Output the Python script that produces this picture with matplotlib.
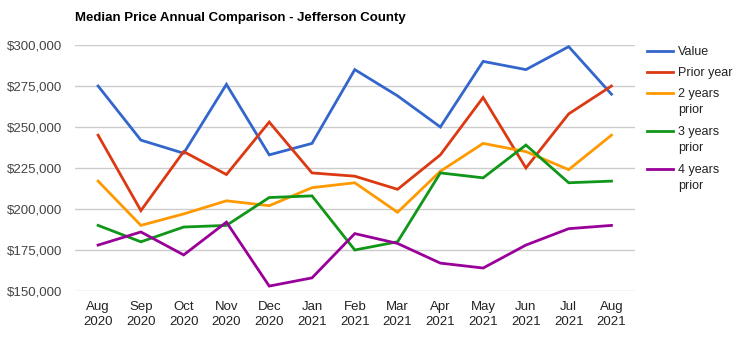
import matplotlib
matplotlib.use("Agg")
import matplotlib.pyplot as plt
from matplotlib.lines import Line2D
import matplotlib.ticker as mticker

plt.rcParams['font.family'] = ['Liberation Sans', 'DejaVu Sans']

months = ["Aug\n2020", "Sep\n2020", "Oct\n2020", "Nov\n2020", "Dec\n2020", "Jan\n2021",
          "Feb\n2021", "Mar\n2021", "Apr\n2021", "May\n2021", "Jun\n2021", "Jul\n2021", "Aug\n2021"]
value = [275000, 242000, 234000, 276000, 233000, 240000, 285000, 269000, 250000, 290000, 285000, 299000, 270000]
prior_year = [245000, 199000, 235000, 221000, 253000, 222000, 220000, 212000, 233000, 268000, 225000, 258000, 275000]
two_years = [217000, 190000, 197000, 205000, 202000, 213000, 216000, 198000, 223000, 240000, 235000, 224000, 245000]
three_years = [190000, 180000, 189000, 190000, 207000, 208000, 175000, 180000, 222000, 219000, 239000, 216000, 217000]
four_years = [178000, 186000, 172000, 192000, 153000, 158000, 185000, 179000, 167000, 164000, 178000, 188000, 190000]

series = [("Value", value, "#3366cc"),
          ("Prior year", prior_year, "#dc3912"),
          ("2 years\nprior", two_years, "#ff9900"),
          ("3 years\nprior", three_years, "#109618"),
          ("4 years\nprior", four_years, "#990099")]
yticks = [150000, 175000, 200000, 225000, 250000, 275000, 300000]

W, H = 751, 338
fig = plt.figure(figsize=(W / 100, H / 100), dpi=100)
ax = fig.add_axes([75 / W, 1 - 291 / H, (635 - 75) / W, (291 - 45) / H])

x = list(range(len(months)))
for name, vals, col in series:
    ax.plot(x, vals, color=col, lw=2, solid_joinstyle='miter')

ax.set_ylim(150000, 300000)
ax.set_xlim(-0.54, 12.55)
ax.set_yticks(yticks)
ax.yaxis.set_major_formatter(mticker.FuncFormatter(lambda v, p: "${:,.0f}".format(v)))
ax.set_xticks(x)
ax.set_xticklabels(months, linespacing=1.3)
ax.grid(axis='y', color='#cccccc', lw=1)
ax.set_axisbelow(True)
for s in ax.spines.values():
    s.set_visible(False)
ax.tick_params(axis='both', length=0, labelsize=9.5, colors='#444444', labelcolor='#444444')
ax.tick_params(axis='y', pad=9.5)
ax.tick_params(axis='x', pad=7.5)
for lbl in ax.get_xticklabels():
    lbl.set_color('#222222')

fig.text(75 / W, 1 - 18 / H, "Median Price Annual Comparison - Jefferson County",
         fontsize=9.5, fontweight='bold', va='center', ha='left', color='#000000')

# legend
ly = [51, 72, 93, 131, 169]
for (name, vals, col), yy in zip(series, ly):
    yf = 1 - yy / H
    fig.add_artist(Line2D([647 / W, 673 / W], [yf, yf], color=col, lw=2, transform=fig.transFigure))
    fig.text(678 / W, yf + 5 / H, name, fontsize=9, va='top', ha='left', color='#222222', linespacing=1.5)

fig.savefig("out.png", dpi=100)
